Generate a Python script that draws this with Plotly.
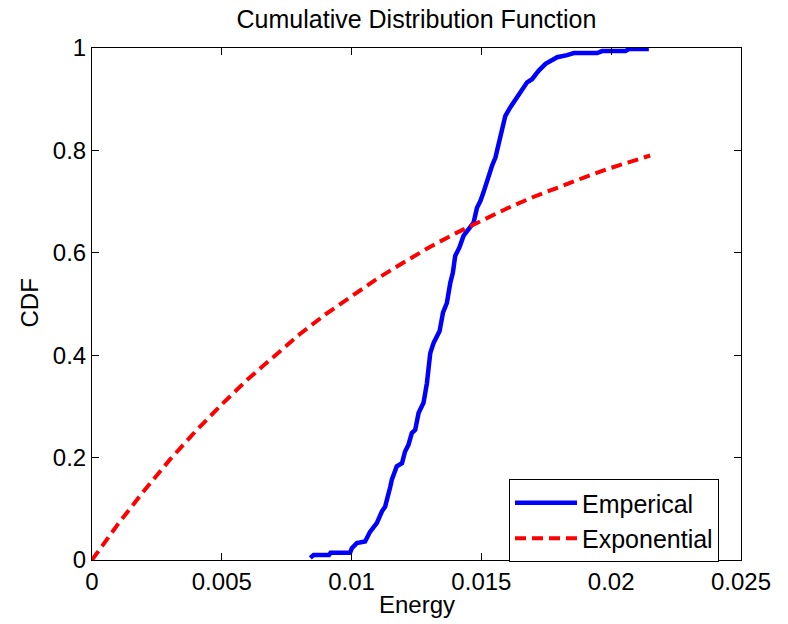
import plotly.graph_objects as go

emp_x = [0.00841, 0.00854, 0.00913, 0.00919, 0.00994, 0.01001, 0.01020, 0.01052, 0.01071, 0.01097,
         0.01117, 0.01129, 0.01149, 0.01155, 0.01174, 0.01194, 0.01206, 0.01219, 0.01232, 0.01245,
         0.01258, 0.01277, 0.01290, 0.01303, 0.01316, 0.01339, 0.01352, 0.01367, 0.01380, 0.01390,
         0.01399, 0.01415, 0.01431, 0.01451, 0.01470, 0.01483, 0.01496, 0.01508, 0.01524, 0.01541,
         0.01554, 0.01573, 0.01592, 0.01611, 0.01637, 0.01657, 0.01676, 0.01695, 0.01721, 0.01747,
         0.01766, 0.01792, 0.01830, 0.01856, 0.01946, 0.01965, 0.02055, 0.02068, 0.02145]
emp_y = [0.004, 0.010, 0.010, 0.014, 0.014, 0.023, 0.033, 0.036, 0.055, 0.072,
         0.095, 0.104, 0.143, 0.157, 0.183, 0.189, 0.212, 0.225, 0.248, 0.254,
         0.287, 0.307, 0.345, 0.404, 0.424, 0.447, 0.483, 0.502, 0.541, 0.561,
         0.594, 0.610, 0.633, 0.646, 0.659, 0.688, 0.701, 0.718, 0.745, 0.770,
         0.786, 0.828, 0.867, 0.884, 0.904, 0.916, 0.933, 0.939, 0.956, 0.969,
         0.975, 0.982, 0.986, 0.990, 0.990, 0.994, 0.994, 0.998, 0.998]

# Exponential CDF
exp_x = [0.0, 0.001, 0.002, 0.003, 0.004, 0.005, 0.006, 0.007, 0.008, 0.009, 0.010,
         0.011, 0.012, 0.013, 0.014, 0.015, 0.016, 0.017, 0.018, 0.019, 0.020, 0.021, 0.0215]
exp_y = [0.0, 0.070, 0.135, 0.196, 0.252, 0.304, 0.353, 0.398, 0.441, 0.480, 0.516,
         0.550, 0.581, 0.611, 0.638, 0.663, 0.687, 0.709, 0.729, 0.748, 0.766, 0.782, 0.790]

x_ticks = [0, 0.005, 0.01, 0.015, 0.02, 0.025]
x_ticklabels = ["0", "0.005", "0.01", "0.015", "0.02", "0.025"]
y_ticks = [0, 0.2, 0.4, 0.6, 0.8, 1]
y_ticklabels = ["0", "0.2", "0.4", "0.6", "0.8", "1"]

FONT = "Liberation Sans, Arial, Helvetica, sans-serif"
FS = 24

# Page is rendered with body margin removed (see post_script), so figure = page.
W, H = 788, 624
PLOT_L, PLOT_R, PLOT_T, PLOT_B = 92, 741, 48, 560   # page pixels of plot box
ML, MT = PLOT_L, PLOT_T
MR, MB = W - PLOT_R, H - PLOT_B
PW, PH = PLOT_R - PLOT_L, PLOT_B - PLOT_T


def px_x(px):
    return (px - PLOT_L) / PW


def px_y(py):
    return (PLOT_B - py) / PH


fig = go.Figure()
fig.add_trace(go.Scatter(x=emp_x, y=emp_y, mode="lines", name="Emperical",
                         line=dict(color="#0000ff", width=4.5)))
fig.add_trace(go.Scatter(x=exp_x, y=exp_y, mode="lines", name="Exponential",
                         line=dict(color="#ff0000", width=4, dash="11px,6px")))

axis_common = dict(showgrid=False, zeroline=False, showline=True, linecolor="black",
                   linewidth=1, mirror="ticks", ticks="inside", ticklen=7, tickwidth=1,
                   tickcolor="black", tickfont=dict(family=FONT, size=FS, color="black"))

fig.update_layout(
    width=W, height=H, autosize=False,
    margin=dict(l=ML, r=MR, t=MT, b=MB, pad=0),
    paper_bgcolor="white", plot_bgcolor="white",
    font=dict(family=FONT, size=FS, color="black"),
    title=dict(text="Cumulative Distribution Function", x=0.5, xref="paper",
               xanchor="center", y=1 - 19 / H, yref="container", yanchor="middle",
               font=dict(family=FONT, size=25, color="black")),
    xaxis=dict(range=[0, 0.025], tickvals=x_ticks, ticktext=x_ticklabels, **axis_common),
    yaxis=dict(range=[0, 1], tickvals=y_ticks, ticktext=y_ticklabels, **axis_common),
    legend=dict(x=px_x(509), y=px_y(479), xanchor="left", yanchor="top",
                bordercolor="black", borderwidth=1, bgcolor="white",
                font=dict(family=FONT, size=25, color="black"),
                tracegroupgap=0, itemwidth=62),
    showlegend=True,
    hovermode=False,
    annotations=[
        dict(text="Energy", xref="paper", yref="paper", x=0.5, y=px_y(604),
             xanchor="center", yanchor="middle", showarrow=False,
             font=dict(family=FONT, size=FS, color="black")),
        dict(text="CDF", xref="paper", yref="paper", x=px_x(28.5), y=px_y(303),
             xanchor="center", yanchor="middle", textangle=-90, showarrow=False,
             font=dict(family=FONT, size=FS, color="black")),
    ],
)

fig.write_html(
    "out.html",
    config={"displayModeBar": False},
    post_script="document.body.style.margin='0';document.body.style.overflow='hidden';",
)
